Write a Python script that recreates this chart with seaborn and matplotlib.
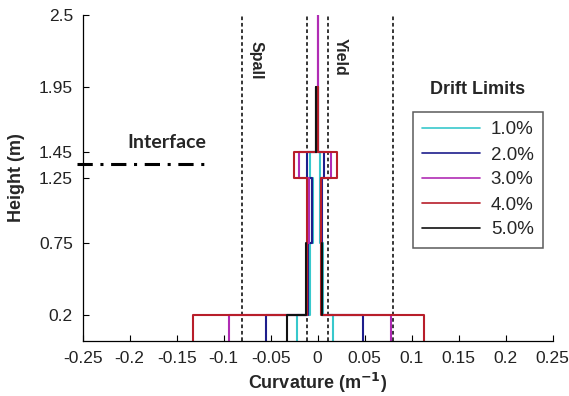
import numpy as np
import pandas as pd
import matplotlib
matplotlib.use("Agg")
import matplotlib.pyplot as plt
import seaborn as sns

# Segment boundaries along the column height (m)
heights = [0.0, 0.2, 0.75, 1.25, 1.45, 1.95, 2.5]
height_ticks = [0.2, 0.75, 1.25, 1.45, 1.95, 2.5]
curv_ticks = [-0.25, -0.2, -0.15, -0.1, -0.05, 0, 0.05, 0.1, 0.15, 0.2, 0.25]
curv_tick_labels = ["-0.25", "-0.2", "-0.15", "-0.1", "-0.05", "0",
                    "0.05", "0.1", "0.15", "0.2", "0.25"]

drifts = ["1.0%", "2.0%", "3.0%", "4.0%", "5.0%"]
colors = ["#38c8cc", "#1e1e8c", "#b02cb4", "#b81e2a", "#111111"]

nan = np.nan
# Curvature per segment (m^-1), negative and positive bending sides
neg_1 = [-0.0215, -0.0080, -0.0053, -0.0080, -0.0010, nan]
pos_1 = [0.0166, 0.0056, 0.0030, 0.0025, 0.0000, nan]
neg_2 = [-0.0553, -0.0100, -0.0065, -0.0115, -0.0010, nan]
pos_2 = [0.0479, 0.0043, 0.0043, 0.0070, 0.0000, nan]
neg_3 = [-0.0947, -0.0110, -0.0090, -0.0195, -0.0010, 0.0003]
pos_3 = [0.0785, 0.0045, 0.0040, 0.0145, 0.0000, 0.0003]
neg_4 = [-0.1327, -0.0115, -0.0110, -0.0255, -0.0010, nan]
pos_4 = [0.1130, 0.0040, 0.0040, 0.0205, 0.0000, nan]
neg_5 = [-0.0323, -0.0124, nan, nan, -0.0020, nan]
pos_5 = [nan, 0.0043, nan, nan, -0.0020, nan]

neg_all = [neg_1, neg_2, neg_3, neg_4, neg_5]
pos_all = [pos_1, pos_2, pos_3, pos_4, pos_5]

spall_limit = 0.08
yield_neg, yield_pos = -0.011, 0.011
interface_h = 1.36


def stair_runs(vals):
    """Split a side profile into contiguous stair polylines."""
    runs, cur = [], []
    for i, v in enumerate(vals):
        if np.isnan(v):
            if cur:
                runs.append(cur)
            cur = []
            continue
        cur += [(v, heights[i]), (v, heights[i + 1])]
    if cur:
        runs.append(cur)
    return runs


rows = []
pid = 0
for d, neg, pos in zip(drifts, neg_all, pos_all):
    for run in stair_runs(neg) + stair_runs(pos):
        for x, y in run:
            rows.append({"curv": x, "h": y, "drift": d, "pid": pid})
        pid += 1
    # cap across the top of the profile
    both = [i for i in range(len(neg)) if not np.isnan(neg[i]) and not np.isnan(pos[i])]
    top = max(both)
    for x in (neg[top], pos[top]):
        rows.append({"curv": x, "h": heights[top + 1], "drift": d, "pid": pid})
    pid += 1

df = pd.DataFrame(rows)

sns.set_style("ticks")
plt.rcParams["font.family"] = ["Liberation Sans", "DejaVu Sans"]
plt.rcParams["xtick.direction"] = "in"
plt.rcParams["ytick.direction"] = "in"

fig = plt.figure(figsize=(5.69, 3.96), dpi=100)
ax = fig.add_axes([0.1453, 0.1389, 0.826, 0.823])

sns.lineplot(data=df, x="curv", y="h", hue="drift", hue_order=drifts,
             palette=colors, units="pid", estimator=None, sort=False,
             lw=1.5, ax=ax, legend=True)

dash = (0, (2.4, 1.8))
for xv in (-spall_limit, spall_limit, yield_neg, yield_pos):
    ax.axvline(xv, color="black", lw=1.1, linestyle=dash, zorder=1)

# interface marker extending past the axis
ax.plot([-0.256, -0.118], [interface_h, interface_h], color="black", lw=2.2,
        linestyle=(0, (5, 2.5, 1, 2.5)), clip_on=False, zorder=5)
ax.text(-0.119, 1.52, "Interface", ha="right", va="center", fontsize=14,
        fontweight="bold", family=["Lato", "DejaVu Sans"])

ax.text(-0.066, 2.15, "Spall", rotation=270, ha="center", va="center",
        fontsize=11.5, fontweight="bold")
ax.text(0.024, 2.18, "Yield", rotation=270, ha="center", va="center",
        fontsize=11.5, fontweight="bold")

ax.set_xlim(-0.25, 0.25)
ax.set_ylim(0, 2.5)
ax.set_xticks(curv_ticks)
ax.set_xticklabels(curv_tick_labels)
ax.set_yticks(height_ticks)
ax.set_yticklabels([f"{v:g}" for v in height_ticks])
ax.tick_params(axis="both", labelsize=12.5, length=4, width=0.8, colors="black",
               labelcolor="#222222")
ax.tick_params(axis="x", pad=7)
ax.tick_params(axis="y", pad=7)
for s in ("top", "right"):
    ax.spines[s].set_visible(False)
for s in ("left", "bottom"):
    ax.spines[s].set_linewidth(0.9)
    ax.spines[s].set_color("black")

ax.set_xlabel("Curvature (m$^{\\mathbf{-1}}$)", fontsize=13, fontweight="bold",
              labelpad=4)
ax.set_ylabel("Height (m)", fontsize=13, fontweight="bold", labelpad=10)

handles, labels = ax.get_legend_handles_labels()
leg = ax.legend(handles, labels, loc="upper left",
                bbox_to_anchor=(413 / 569, 1 - 112 / 396),
                bbox_transform=fig.transFigure, borderaxespad=0,
                frameon=True, fancybox=False, fontsize=13.5,
                handlelength=3.05, handletextpad=0.6, labelspacing=0.42,
                borderpad=0.5)
leg.get_frame().set_edgecolor("#333333")
leg.get_frame().set_linewidth(1.1)
for line in leg.get_lines():
    line.set_linewidth(1.2)
fig.text(478 / 569, 1 - 90 / 396, "Drift Limits", ha="center", va="center",
         fontsize=13, fontweight="bold")

fig.savefig("out.png", dpi=100)
